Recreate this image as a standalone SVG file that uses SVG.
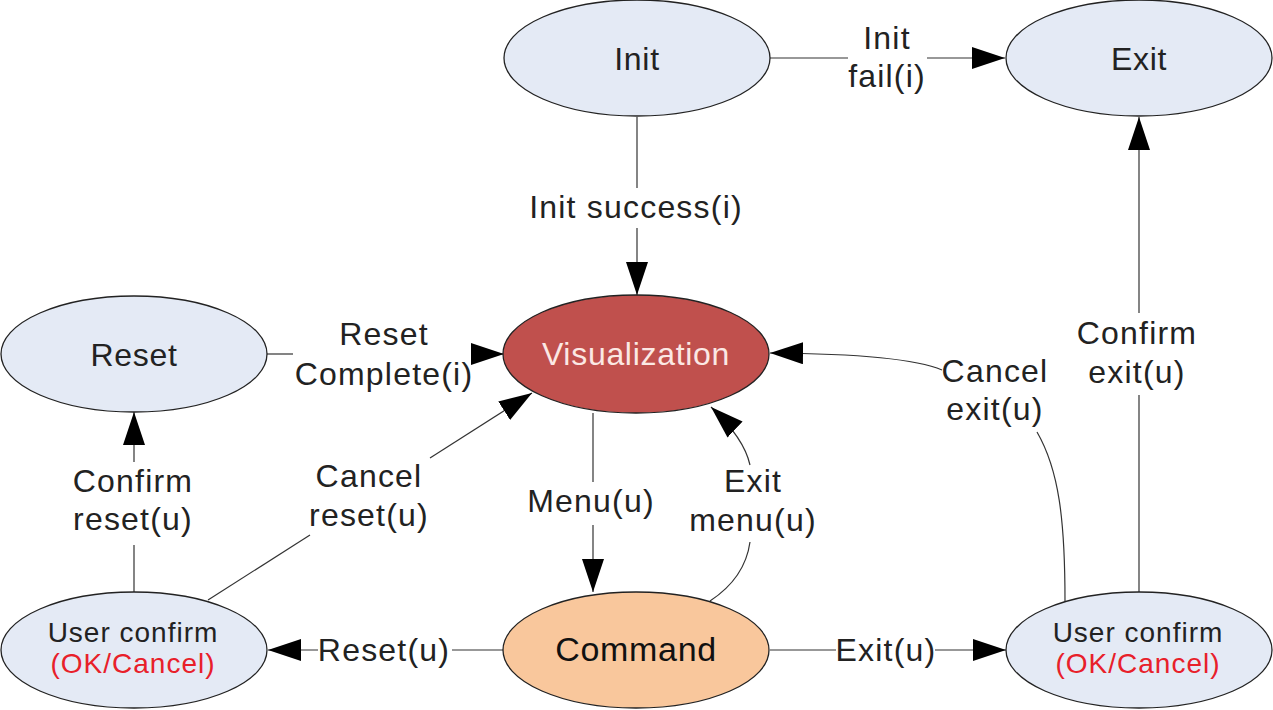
<svg xmlns="http://www.w3.org/2000/svg" width="1273" height="710" viewBox="0 0 1273 710">
<style>
.node{fill:#E4EAF5;stroke:#222;stroke-width:1.3}
.t{font-family:"Liberation Sans",Arial,sans-serif;font-size:32px;letter-spacing:0.7px;fill:#222;text-anchor:middle}
.lbl{font-family:"Liberation Sans",Arial,sans-serif;font-size:32px;letter-spacing:1.2px;fill:#222;text-anchor:middle}
.small{font-size:28px;letter-spacing:1px}
.red{fill:#E8202A}
.c{fill:none;stroke:#333;stroke-width:1.2}
</style>
<defs>
<marker id="ah" markerUnits="userSpaceOnUse" markerWidth="34" markerHeight="24" refX="33" refY="11" orient="auto">
<path d="M0,0 L33,11 L0,22 z" fill="#000"/>
</marker>
</defs>
<rect width="1273" height="710" fill="#fff"/>
<g id="connectors">
<path class="c" d="M770,58 L848,58"/>
<path class="c" d="M927,58 L1005,58" marker-end="url(#ah)"/>
<path class="c" d="M637,117 L637,188"/>
<path class="c" d="M637,228 L637,295" marker-end="url(#ah)"/>
<path class="c" d="M267,354 L293,354"/>
<path class="c" d="M476,354 L504,354" marker-end="url(#ah)"/>
<path class="c" d="M593,413 L593,482"/>
<path class="c" d="M593,525 L593,592" marker-end="url(#ah)"/>
<path class="c" d="M710,601 Q745,578 750,542"/>
<path class="c" d="M750,465 Q744,438 711,407" marker-end="url(#ah)"/>
<path class="c" d="M503,650 L452,650"/>
<path class="c" d="M318,650 L268,650" marker-end="url(#ah)"/>
<path class="c" d="M770,650 L836,650"/>
<path class="c" d="M935,650 L1006,650" marker-end="url(#ah)"/>
<path class="c" d="M134,592 L134,545"/>
<path class="c" d="M134,462 L134,412" marker-end="url(#ah)"/>
<path class="c" d="M208,600 L310,535"/>
<path class="c" d="M430,458 L532,393" marker-end="url(#ah)"/>
<path class="c" d="M1139,592 L1139,395"/>
<path class="c" d="M1139,313 L1139,117" marker-end="url(#ah)"/>
<path class="c" d="M1065,601 C1065,520 1059,470 1037,432"/>
<path class="c" d="M942,370 Q905,354 770,353" marker-end="url(#ah)"/>
</g>
<g id="labels">
<text class="lbl" x="887" y="49">Init</text>
<text class="lbl" x="887" y="87">fail(i)</text>
<text class="lbl" x="636" y="218">Init success(i)</text>
<text class="lbl" x="384" y="345">Reset</text>
<text class="lbl" x="384" y="385">Complete(i)</text>
<text class="lbl" x="591" y="512">Menu(u)</text>
<text class="lbl" x="753" y="492">Exit</text>
<text class="lbl" x="753" y="531">menu(u)</text>
<text class="lbl" x="995" y="382">Cancel</text>
<text class="lbl" x="995" y="420">exit(u)</text>
<text class="lbl" x="1137" y="344">Confirm</text>
<text class="lbl" x="1137" y="383">exit(u)</text>
<text class="lbl" x="133" y="492">Confirm</text>
<text class="lbl" x="133" y="530">reset(u)</text>
<text class="lbl" x="369" y="487">Cancel</text>
<text class="lbl" x="369" y="526">reset(u)</text>
<text class="lbl" x="384" y="661">Reset(u)</text>
<text class="lbl" x="886" y="661">Exit(u)</text>
</g>
<g id="init">
<ellipse class="node" cx="637" cy="58" rx="133" ry="58"/>
<text class="t" x="637" y="70">Init</text>
</g>
<g id="exit">
<ellipse class="node" cx="1139" cy="58" rx="133" ry="58"/>
<text class="t" x="1139" y="70">Exit</text>
</g>
<g id="reset">
<ellipse class="node" cx="134" cy="354" rx="133" ry="58"/>
<text class="t" x="134" y="366">Reset</text>
</g>
<g id="visualization">
<ellipse cx="636" cy="354" rx="133" ry="59" fill="#C0504D" stroke="#222" stroke-width="1.3"/>
<text class="t" x="636" y="365" style="fill:#FBE8E4">Visualization</text>
</g>
<g id="command">
<ellipse cx="636" cy="650" rx="133" ry="58" fill="#F9C79C" stroke="#222" stroke-width="1.3"/>
<text class="t" x="636" y="661" style="font-size:34px;fill:#111">Command</text>
</g>
<g id="user-confirm-left">
<ellipse class="node" cx="134" cy="650" rx="133" ry="58"/>
<text class="t small" x="133" y="642">User confirm</text>
<text class="t small red" x="133" y="673">(OK/Cancel)</text>
</g>
<g id="user-confirm-right">
<ellipse class="node" cx="1139" cy="650" rx="133" ry="58"/>
<text class="t small" x="1138" y="642">User confirm</text>
<text class="t small red" x="1138" y="673">(OK/Cancel)</text>
</g>
</svg>
